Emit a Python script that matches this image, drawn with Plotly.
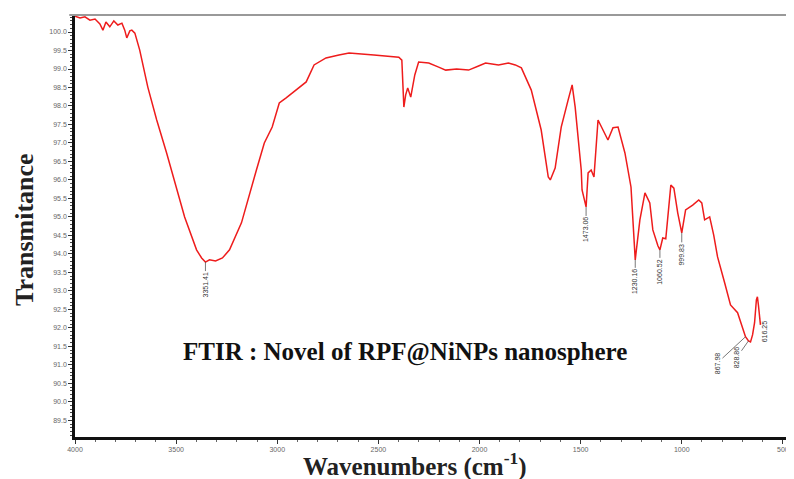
import plotly.graph_objects as go

# FTIR spectrum (wavenumber cm-1, transmittance %)
wavenumber = [4000, 3975, 3951, 3926, 3901, 3877, 3862, 3847, 3828, 3808, 3788, 3768, 3754, 3744,
              3729, 3719, 3704, 3680, 3640, 3596, 3547, 3507, 3458, 3399, 3374, 3355, 3335, 3305,
              3271, 3236, 3177, 3103, 3064, 3025, 2990, 2956, 2857, 2818, 2759, 2695, 2645, 2522,
              2399, 2384, 2374, 2365, 2355, 2340, 2320, 2301, 2251, 2202, 2167, 2113, 2054, 2005,
              1970, 1906, 1857, 1823, 1793, 1744, 1695, 1660, 1650, 1626, 1596, 1562, 1542, 1527,
              1507, 1497, 1493, 1473, 1463, 1448, 1434, 1414, 1365, 1340, 1315, 1281, 1251, 1230,
              1207, 1182, 1158, 1143, 1118, 1108, 1094, 1079, 1054, 1039, 1020, 1000, 981, 946,
              916, 901, 887, 862, 842, 823, 788, 759, 724, 705, 685, 670, 660, 650, 640, 631,
              626, 621, 616, 611]
transmittance = [100.43, 100.38, 100.41, 100.32, 100.35, 100.22, 100.05, 100.27, 100.14, 100.30,
                 100.19, 100.24, 100.05, 99.84, 100.03, 100.05, 99.97, 99.51, 98.51, 97.62, 96.73,
                 95.92, 95.00, 94.11, 93.89, 93.78, 93.84, 93.81, 93.89, 94.11, 94.84, 96.27, 97.00,
                 97.43, 98.08, 98.22, 98.65, 99.11, 99.30, 99.38, 99.43, 99.38, 99.32, 99.24, 97.97,
                 98.30, 98.49, 98.24, 98.84, 99.19, 99.16, 99.05, 98.97, 99.00, 98.97, 99.08, 99.16,
                 99.11, 99.16, 99.11, 99.03, 98.43, 97.35, 96.08, 96.00, 96.32, 97.43, 98.16, 98.57,
                 97.97, 96.73, 96.27, 95.73, 95.27, 96.19, 96.27, 96.08, 97.62, 97.08, 97.41, 97.43,
                 96.73, 95.81, 93.84, 94.92, 95.65, 95.38, 94.65, 94.22, 94.11, 94.43, 94.41, 95.86,
                 95.78, 95.11, 94.57, 95.19, 95.32, 95.46, 95.38, 94.92, 95.00, 94.51, 93.92, 93.22,
                 92.62, 92.41, 92.08, 91.76, 91.65, 91.62, 91.81, 92.14, 92.76, 92.84, 92.62, 92.27,
                 92.08]

# Peak labels: text, and the curve point it marks
peak_text = ["3351.41", "1473.06", "1230.16", "1060.52", "999.83", "867.98", "828.86", "616.25"]
peak_wn = [3355, 1473, 1230, 1108, 1000, 685, 670, 616]
peak_T = [93.78, 95.27, 93.84, 94.11, 94.57, 91.76, 91.65, 92.27]

x_ticks = [4000, 3500, 3000, 2500, 2000, 1500, 1000, 500]
y_ticks = [round(89.5 + 0.5 * i, 1) for i in range(22)]

# label offsets in pixels (ax, ay)
label_offsets = [(0, 23), (0, 23), (0, 22), (0, 22), (0, 22), (-28, 26), (-12, 17), (5, 13)]

SERIF = "Liberation Serif, Times New Roman, serif"

fig = go.Figure()
fig.add_trace(go.Scatter(x=wavenumber, y=transmittance, mode="lines",
                         line=dict(color="#ee1c1c", width=1.5), hoverinfo="skip"))

annotations = []
for t, w, v, (ax, ay) in zip(peak_text, peak_wn, peak_T, label_offsets):
    annotations.append(dict(x=w, y=v, xref="x", yref="y", text=t, textangle=-90,
                            showarrow=True, arrowhead=0, arrowwidth=0.8, arrowcolor="#555",
                            ax=ax, ay=ay, font=dict(size=7, color="#333", family="Arial")))

annotations.append(dict(xref="paper", yref="paper", x=(405 - 75) / 718, y=(437 - 352) / 422,
                        text="<b>FTIR : Novel of RPF@NiNPs nanosphere</b>", showarrow=False,
                        font=dict(size=25, family=SERIF, color="#111"),
                        xanchor="center", yanchor="middle"))
annotations.append(dict(xref="paper", yref="paper", x=(415 - 75) / 718, y=(437 - 464) / 422,
                        text="<b>Wavenumbers (cm<sup>-1</sup>)</b>", showarrow=False,
                        font=dict(size=25, family=SERIF, color="#222"),
                        xanchor="center", yanchor="middle"))
annotations.append(dict(xref="paper", yref="paper", x=(24 - 75) / 718, y=(437 - 230) / 422,
                        text="<b>Transmitance</b>", showarrow=False, textangle=-90,
                        font=dict(size=26, family=SERIF, color="#222"),
                        xanchor="center", yanchor="middle"))

# the page body adds an 8px offset, so the figure is 8px smaller on each axis
fig.update_layout(
    width=786, height=471,
    margin=dict(l=67, r=1, t=7, b=42),
    paper_bgcolor="white", plot_bgcolor="white",
    showlegend=False,
    annotations=annotations,
    xaxis=dict(range=[4000, 450], tickvals=x_ticks, ticktext=[str(v) for v in x_ticks],
               showgrid=False, zeroline=False, showline=True, linecolor="#111", linewidth=2.5,
               ticks="outside", ticklen=4, tickcolor="#333", tickwidth=1,
               minor=dict(dtick=100, ticks="outside", ticklen=2, tickcolor="#666"),
               tickfont=dict(size=7, color="#666", family="Arial")),
    yaxis=dict(range=[89.05, 100.46], tickvals=y_ticks, ticktext=[f"{v:.1f}" for v in y_ticks],
               showgrid=False, zeroline=False, showline=True, linecolor="#111", linewidth=2.5,
               ticks="outside", ticklen=4, tickcolor="#333", tickwidth=1,
               minor=dict(dtick=0.1, ticks="outside", ticklen=2, tickcolor="#444"),
               tickfont=dict(size=7, color="#666", family="Arial")),
    shapes=[dict(type="line", xref="paper", yref="paper", x0=-0.008, x1=1, y0=1, y1=1,
                 line=dict(color="#999", width=2))],
)

fig.write_html("out.html")
